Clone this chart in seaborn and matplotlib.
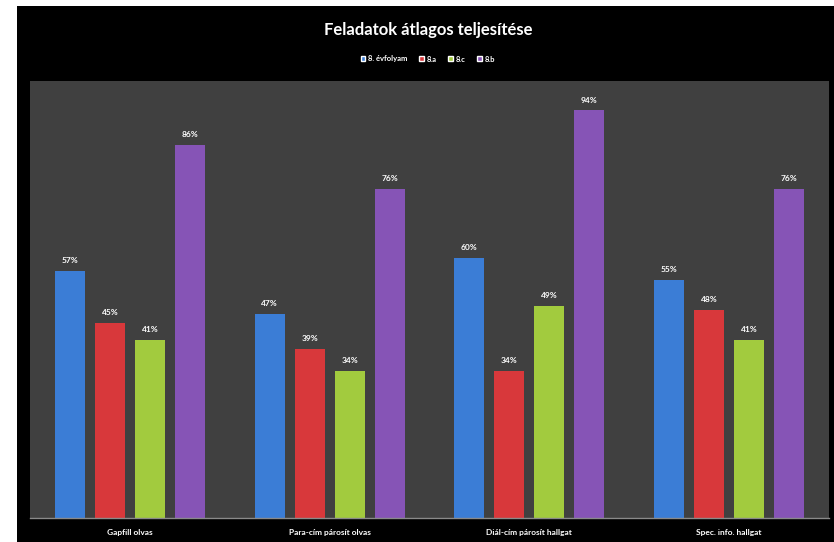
import pandas as pd
import matplotlib.pyplot as plt
import seaborn as sns
from matplotlib.patches import Rectangle

# data
categories = ['Gapfill olvas', 'Para-cím párosít olvas', 'Diál-cím párosít hallgat', 'Spec. info. hallgat']
groups = ['8. évfolyam', '8.a', '8.c', '8.b']
evfolyam = [57, 47, 60, 55]
osztaly_a = [45, 39, 34, 48]
osztaly_c = [41, 34, 49, 41]
osztaly_b = [86, 76, 94, 76]
colors = ['#3b7dd6', '#d8383b', '#a2cb3e', '#8654b6']

df = pd.DataFrame({
    'feladat': categories * 4,
    'csoport': [g for g in groups for _ in categories],
    'ertek': evfolyam + osztaly_a + osztaly_c + osztaly_b,
})

sns.set_style('dark')
plt.rcParams['font.family'] = ['Lato', 'DejaVu Sans']

fig = plt.figure(figsize=(8.34, 5.42), dpi=100, facecolor='white')
# black chart area with a thin white margin on the left and top
fig.add_artist(Rectangle((17 / 834, 0), 1, 536 / 542, transform=fig.transFigure,
                         facecolor='black', edgecolor='none', zorder=0))
ax = fig.add_axes([30 / 834, 24 / 542, 799 / 834, 437 / 542])
ax.set_facecolor('#404040')

sns.barplot(data=df, x='feladat', y='ertek', hue='csoport', hue_order=groups,
            palette=colors, width=0.8, gap=0.25, ax=ax, legend=False,
            saturation=1, edgecolor='none')

for cont in ax.containers:
    ax.bar_label(cont, labels=[f'{int(v)}%' for v in cont.datavalues], padding=5,
                 color='white', fontsize=6, fontweight='bold')

ax.set_ylim(0, 100.8)
ax.set_xlim(-0.5, 3.5)
ax.set_yticks([])
ax.set_xlabel('')
ax.set_ylabel('')
ax.tick_params(axis='x', colors='white', labelsize=6, length=0, pad=8)
for lbl in ax.get_xticklabels():
    lbl.set_fontweight('bold')
for s in ['top', 'left', 'right']:
    ax.spines[s].set_visible(False)
ax.spines['bottom'].set_visible(True)
ax.spines['bottom'].set_color('#8a8a8a')
ax.spines['bottom'].set_linewidth(1)

fig.text(0.513, 1 - 30 / 542, 'Feladatok átlagos teljesítése', color='white',
         fontsize=12, fontweight='bold', ha='center', va='center')

handles = [Rectangle((0, 0), 1, 1, facecolor=c) for c in colors]
fig.legend(handles, groups, loc='center', bbox_to_anchor=(0.513, 1 - 59 / 542),
           ncol=4, frameon=False, labelcolor='white',
           handlelength=0.6, handleheight=0.6, handletextpad=0.4, columnspacing=1.5,
           prop={'weight': 'bold', 'size': 5.5})

fig.savefig('out.png', dpi=100, facecolor='white')
